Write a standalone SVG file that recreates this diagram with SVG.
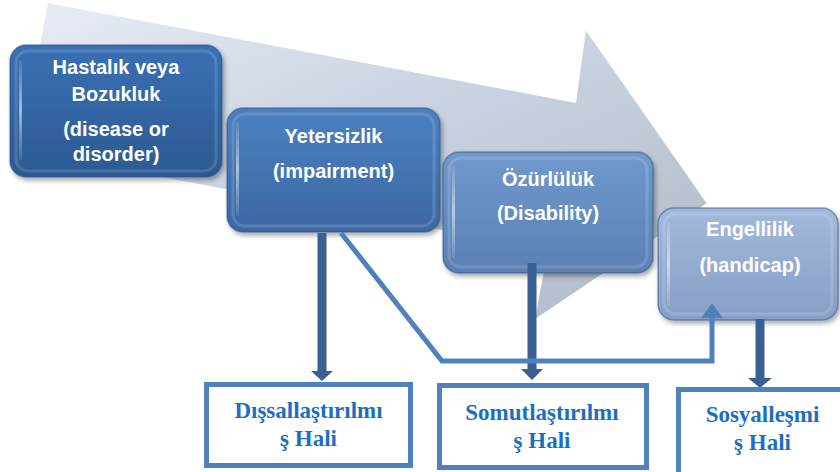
<svg xmlns="http://www.w3.org/2000/svg" width="840" height="472" viewBox="0 0 840 472">
  <defs>
    <linearGradient id="bgArrow" x1="0" y1="0" x2="1" y2="1">
      <stop offset="0" stop-color="#e6ebf3"/>
      <stop offset="0.4" stop-color="#c7d1e2"/>
      <stop offset="1" stop-color="#a6b1c1"/>
    </linearGradient>
    <linearGradient id="g1" x1="0" y1="0" x2="0" y2="1">
      <stop offset="0" stop-color="#3a70b4"/>
      <stop offset="1" stop-color="#2c5992"/>
    </linearGradient>
    <linearGradient id="g2" x1="0" y1="0" x2="0" y2="1">
      <stop offset="0" stop-color="#4c80c0"/>
      <stop offset="1" stop-color="#3b68a3"/>
    </linearGradient>
    <linearGradient id="g3" x1="0" y1="0" x2="0" y2="1">
      <stop offset="0" stop-color="#7199cd"/>
      <stop offset="1" stop-color="#5a80b4"/>
    </linearGradient>
    <linearGradient id="g4" x1="0" y1="0" x2="0" y2="1">
      <stop offset="0" stop-color="#a3b9dd"/>
      <stop offset="1" stop-color="#879fc6"/>
    </linearGradient>
    <linearGradient id="hl" x1="0" y1="0" x2="0" y2="1">
      <stop offset="0" stop-color="#ffffff" stop-opacity="0.1"/>
      <stop offset="0.5" stop-color="#ffffff" stop-opacity="0.55"/>
      <stop offset="1" stop-color="#ffffff" stop-opacity="0.1"/>
    </linearGradient>
    <filter id="shadow" x="-10%" y="-10%" width="130%" height="130%">
      <feDropShadow dx="2" dy="3" stdDeviation="2.5" flood-color="#000000" flood-opacity="0.35"/>
    </filter>
    <style>
      .box { stroke: #2a4f80; stroke-opacity: 0.5; stroke-width: 1.5; filter: url(#shadow); }
      .bevel { fill: none; stroke: #ffffff; stroke-opacity: 0.14; stroke-width: 3; }
      .strip { fill: url(#hl); }
      .t { font-family: "Liberation Sans", Arial, sans-serif; font-weight: bold; font-size: 20px; fill: #ffffff; text-anchor: middle; }
      .ob { fill: #ffffff; stroke: #4f81bd; stroke-width: 5; }
      .ot { font-family: "Liberation Serif", "Times New Roman", serif; font-weight: bold; font-size: 23px; fill: #1b6fc2; text-anchor: middle; }
      .dark { stroke: #3a5f92; stroke-width: 9; fill: none; }
      .darkhead { fill: #3a5f92; }
      .light { stroke: #4f81bd; stroke-width: 5; fill: none; stroke-linejoin: miter; }
      .lighthead { fill: #4f81bd; }
    </style>
  </defs>

  <g id="background-arrow">
    <polygon points="48,3 576,103 586,30 707,203 535,319 548,250 20,150" fill="url(#bgArrow)" opacity="0.9"/>
    <polyline points="586,30 707,203" fill="none" stroke="#ffffff" stroke-opacity="0.5" stroke-width="1.5"/>
  </g>

  <g id="node-hastalik">
    <rect class="box" x="10" y="45" width="212" height="132" rx="16" fill="url(#g1)"/>
    <rect class="bevel" x="16" y="51" width="200" height="120" rx="12"/>
    <rect class="strip" x="19" y="60" width="3" height="100" rx="1.5"/>
    <text class="t" x="116" y="74">Hastalık veya</text>
    <text class="t" x="116" y="101">Bozukluk</text>
    <text class="t" x="116" y="136">(disease or</text>
    <text class="t" x="116" y="161">disorder)</text>
  </g>

  <g id="node-yetersizlik">
    <rect class="box" x="227" y="108" width="213" height="124" rx="16" fill="url(#g2)"/>
    <rect class="bevel" x="233" y="114" width="201" height="112" rx="12"/>
    <rect class="strip" x="236" y="122" width="3" height="94" rx="1.5"/>
    <text class="t" x="333.5" y="143">Yetersizlik</text>
    <text class="t" x="333.5" y="178">(impairment)</text>
  </g>

  <g id="node-ozurluluk">
    <rect class="box" x="443" y="152" width="210" height="121" rx="16" fill="url(#g3)"/>
    <rect class="bevel" x="449" y="158" width="198" height="109" rx="12"/>
    <rect class="strip" x="452" y="166" width="3" height="92" rx="1.5"/>
    <text class="t" x="548" y="186">Özürlülük</text>
    <text class="t" x="548" y="220">(Disability)</text>
  </g>

  <g id="node-engellilik">
    <rect class="box" x="658" y="208" width="180" height="112" rx="16" fill="url(#g4)"/>
    <rect class="bevel" x="664" y="214" width="168" height="100" rx="12"/>
    <rect class="strip" x="667" y="222" width="3" height="84" rx="1.5"/>
    <text class="t" x="750" y="236">Engellilik</text>
    <text class="t" x="750" y="272">(handicap)</text>
  </g>

  <g id="connectors">
    <line class="dark" x1="322" y1="233" x2="322" y2="372"/>
    <polygon class="darkhead" points="311,371 333,371 322,381"/>
    <line class="dark" x1="532" y1="263" x2="532" y2="370"/>
    <polygon class="darkhead" points="521,369 543,369 532,380"/>
    <line class="dark" x1="760" y1="319" x2="760" y2="379"/>
    <polygon class="darkhead" points="748,378 772,378 760,388"/>
    <polyline class="light" points="341,233 442,361 712,361 712,316"/>
    <polygon class="lighthead" points="701,318 723,318 712,303"/>
  </g>

  <g id="node-dissallastirilmis">
    <rect class="ob" x="206.5" y="384.5" width="204" height="81"/>
    <text class="ot" x="308.5" y="418">Dışsallaştırılmı</text>
    <text class="ot" x="308.5" y="446">ş Hali</text>
  </g>

  <g id="node-somutlastirilmis">
    <rect class="ob" x="439.5" y="385.5" width="207" height="82"/>
    <text class="ot" x="542" y="420">Somutlaştırılmı</text>
    <text class="ot" x="542" y="448">ş Hali</text>
  </g>

  <g id="node-sosyallesmis">
    <rect class="ob" x="678.5" y="389.5" width="170" height="90"/>
    <text class="ot" x="762.5" y="422">Sosyalleşmi</text>
    <text class="ot" x="762.5" y="450">ş Hali</text>
  </g>
</svg>
